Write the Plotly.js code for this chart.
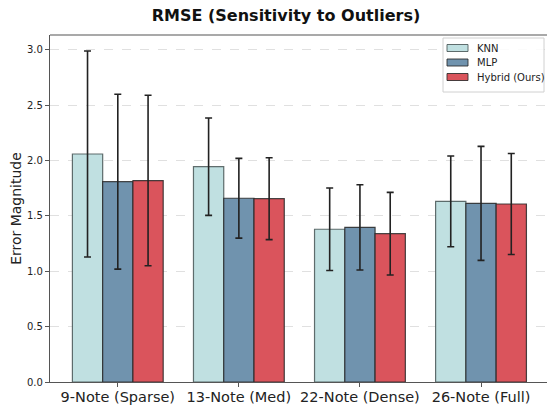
<!DOCTYPE html>
<html>
<head>
<meta charset="utf-8">
<script src="https://cdn.plot.ly/plotly-3.0.1.min.js"></script>
<style>html,body{margin:0;padding:0;background:#fff;}#chart{width:547px;height:407px;}</style>
</head>
<body>
<div id="chart"></div>
<script>
const categories = ["9-Note (Sparse)", "13-Note (Med)", "22-Note (Dense)", "26-Note (Full)"];
const seriesNames = ["KNN", "MLP", "Hybrid (Ours)"];
const knnValues = [2.06, 1.945, 1.38, 1.632];
const knnErrors = [0.93, 0.44, 0.373, 0.41];
const mlpValues = [1.81, 1.66, 1.397, 1.614];
const mlpErrors = [0.79, 0.36, 0.385, 0.515];
const hybridValues = [1.82, 1.656, 1.34, 1.608];
const hybridErrors = [0.77, 0.37, 0.373, 0.456];
const yTicks = [0.0, 0.5, 1.0, 1.5, 2.0, 2.5, 3.0];

const colors = ["#c0e0e1", "#7093ae", "#da545c"];
const edgeColors = ["rgba(70,85,85,0.85)", "rgba(40,40,40,0.85)", "rgba(40,40,40,0.85)"];
const vals = [knnValues, mlpValues, hybridValues];
const errs = [knnErrors, mlpErrors, hybridErrors];
const xIdx = categories.map((c, i) => i);

const traces = seriesNames.map((name, k) => ({
  type: "bar",
  name: name,
  x: xIdx,
  y: vals[k],
  marker: {color: colors[k], line: {color: edgeColors[k], width: 1.2}},
  error_y: {type: "data", array: errs[k], visible: true, color: "#222", thickness: 1.6, width: 3.5},
  hoverinfo: "skip",
  showlegend: false
}));

// Custom legend (matplotlib style), positioned in pixels
const W = 547, H = 407, ML = 50, MR = 0, MT = 35, MB = 25;
const px = x => (x - ML) / (W - ML - MR);
const py = y => (H - MB - y) / (H - MT - MB);
const shapes = [
  {type: "line", xref: "paper", yref: "paper", x0: 0, x1: 1, y0: 1, y1: 1, line: {color: "#555", width: 1.2}},
  {type: "rect", xref: "paper", yref: "paper", x0: px(443), x1: px(544), y0: py(38), y1: py(92),
   fillcolor: "rgba(255,255,255,0.85)", line: {color: "#d0d0d0", width: 1}}
];
const annotations = [];
const rowY = [48, 62.5, 77];
seriesNames.forEach((name, k) => {
  shapes.push({type: "rect", xref: "paper", yref: "paper", x0: px(447), x1: px(468),
    y0: py(rowY[k] + 3.5), y1: py(rowY[k] - 3.5), fillcolor: colors[k], line: {color: edgeColors[k], width: 1}});
  annotations.push({xref: "paper", yref: "paper", x: px(475), y: py(rowY[k]), xanchor: "left", yanchor: "middle",
    text: name, showarrow: false, font: {size: 10, color: "#222"}});
});

const layout = {
  width: W, height: H,
  margin: {l: ML, r: MR, t: MT, b: MB},
  paper_bgcolor: "#fff", plot_bgcolor: "#fff",
  barmode: "group", bargap: 0.25, bargroupgap: 0,
  font: {family: "DejaVu Sans", color: "#222"},
  title: {text: "<b>RMSE (Sensitivity to Outliers)</b>", font: {family: "DejaVu Sans", size: 16, color: "#111"},
          x: 286/547, xref: "container", xanchor: "center", y: 1 - 15/407, yref: "container", yanchor: "middle"},
  xaxis: {
    range: [-0.56, 3.545], tickvals: xIdx, ticktext: categories,
    tickfont: {size: 14.5, color: "#222"},
    showgrid: false, zeroline: false,
    showline: true, linecolor: "#555", linewidth: 1.2,
    ticks: "outside", ticklen: 4, tickcolor: "#555",
    ticklabelstandoff: -3,
    fixedrange: true
  },
  yaxis: {
    range: [0, 3.135], tickvals: yTicks, ticktext: yTicks.map(v => v.toFixed(1)),
    tickfont: {size: 10, color: "#222"},
    title: {text: "Error Magnitude", font: {size: 14, color: "#222"}, standoff: 2},
    showgrid: true, gridcolor: "#d8d8d8", griddash: "dash", gridwidth: 0.8,
    zeroline: false,
    showline: true, linecolor: "#555", linewidth: 1.2,
    ticks: "outside", ticklen: 4, tickcolor: "#555",
    fixedrange: true
  },
  shapes: shapes,
  annotations: annotations,
  showlegend: false
};

Plotly.newPlot("chart", traces, layout, {displayModeBar: false, staticPlot: true});
</script>
</body>
</html>
